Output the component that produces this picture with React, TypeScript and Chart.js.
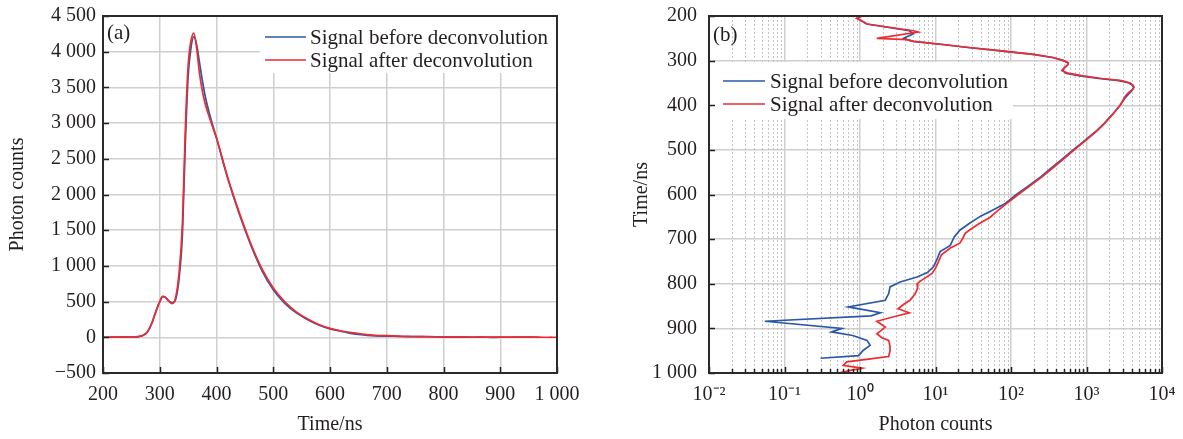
import { useEffect, useRef } from 'react';
import { Chart, registerables } from 'chart.js';

Chart.register(...registerables);

const FONT_FAMILY = '"Liberation Serif", "Times New Roman", Times, serif';
const INK = '#231f20';
const GRID = '#cfcfcf';
const MINOR_GRID = '#c4c4c4';
const BLUE = '#2b57ab';
const RED = '#ee2b30';
const HEIGHT = 439;

const seriesLabels = ['Signal before deconvolution', 'Signal after deconvolution'];
const seriesColors = [BLUE, RED];

// Signal before deconvolution: time (ns) and photon counts
const beforeTimes = [
  200, 205, 214, 218, 233, 240, 250, 253, 257, 265, 270, 278, 286, 293, 300, 305, 310, 316, 322, 328,
  334, 340, 345, 350, 355, 360, 365, 370, 375, 380, 390, 400, 420, 440, 460, 480, 500, 520, 540, 560,
  580, 600, 620, 634, 649, 665, 680, 695, 714, 728, 745, 762, 775, 785, 796, 807, 822, 837, 852, 865,
  872, 884, 900, 908, 916, 927, 938, 949, 961, 967,
];
const beforeCounts = [
  1.06, 0.91, 1.13, 1.23, 4.5, 5.1, 3.8, 4.2, 5.1, 14, 25, 72, 195, 355, 495, 570, 562, 510, 482, 530,
  820, 1450, 2700, 3650, 4050, 4210, 4100, 3850, 3600, 3380, 3060, 2790, 2220, 1730, 1300, 935, 665, 480, 345, 250,
  172, 118, 84, 58.6, 39, 28, 21, 17.7, 15.7, 11.5, 10.5, 9.4, 7.8, 5.7, 3.4, 2.5, 2.4, 2.16, 0.7, 1.86,
  1.4, 0.055, 0.575, 0.42, 0.8, 1.24, 1.36, 1.11, 0.955, 0.3,
];

// Signal after deconvolution: time (ns) and photon counts
const afterTimes = [
  200, 205, 214, 218, 233, 236, 250, 253, 257, 265, 270, 278, 286, 293, 300, 305, 310, 316, 322, 328,
  334, 340, 345, 350, 355, 360, 365, 370, 375, 380, 390, 400, 420, 440, 460, 480, 500, 520, 540, 560,
  580, 600, 620, 638, 651, 665, 680, 687, 698, 709, 720, 735, 750, 765, 777, 794, 800, 810, 822, 837,
  846, 856, 865, 874, 884, 897, 905, 912, 921, 927, 940, 950, 963, 969, 975, 983, 989, 994, 1000,
];
const afterCounts = [
  1.06, 0.91, 1.13, 1.23, 5.1, 5.9, 1.67, 4.2, 5.1, 14.5, 26, 75, 200, 360, 500, 575, 560, 505, 472, 560,
  900, 1600, 2900, 3800, 4150, 4260, 4050, 3700, 3450, 3270, 3020, 2790, 2230, 1750, 1320, 960, 690, 500, 360, 260,
  180, 125, 88, 65, 53, 38, 28, 24.7, 23, 21, 15.7, 12, 11, 10, 9, 6.3, 5.7, 5.8, 5.4, 4.6,
  3.8, 3.2, 4.5, 2.8, 1.67, 2.16, 1.9, 1.67, 1.95, 2.4, 2.5, 2.5, 2.4, 1.3, 0.67, 0.6, 1.06, 0.75, 0.52,
];

const timeTicks = [200, 300, 400, 500, 600, 700, 800, 900, 1000];
const countTicks = [-500, 0, 500, 1000, 1500, 2000, 2500, 3000, 3500, 4000, 4500];
const decadeExponents = [-2, -1, 0, 1, 2, 3, 4];
const decadeSubdivisions = [1, 2, 3, 4, 5, 6, 7, 8, 9];

const SUPERSCRIPT: Record<string, string> = {
  '-': '\u207B', '0': '\u2070', '1': '\u00B9', '2': '\u00B2', '3': '\u00B3',
  '4': '\u2074', '5': '\u2075', '6': '\u2076', '7': '\u2077', '8': '\u2078', '9': '\u2079',
};

const logTickValues = decadeExponents.flatMap((e, i) =>
  i === decadeExponents.length - 1
    ? [Math.pow(10, e)]
    : decadeSubdivisions.map((m) => Number((m * Math.pow(10, e)).toPrecision(3)))
);

function isDecade(v: number): boolean {
  const l = Math.log10(v);
  return Math.abs(l - Math.round(l)) < 1e-9;
}

function powerOfTen(v: number): string {
  const exp = Math.round(Math.log10(v));
  return '10' + String(exp).split('').map((c) => SUPERSCRIPT[c]).join('');
}

function spacedNumber(v: number): string {
  const digits = Math.abs(Math.round(v)).toString().replace(/\B(?=(\d{3})+(?!\d))/g, ' ');
  return (v < 0 ? '\u2212' : '') + digits;
}

const tickFont = { family: FONT_FAMILY, size: 20 };
const legendFont = `21px ${FONT_FAMILY}`;

// keep the plot area where the layout padding puts it
function fixedVertical(width: number) {
  return (s: any) => {
    s.width = width;
    s.paddingTop = 0;
    s.paddingBottom = 0;
  };
}
function fixedHorizontal(height: number) {
  return (s: any) => {
    s.height = height;
    s.paddingLeft = 0;
    s.paddingRight = 0;
  };
}

type LegendSpec = {
  left: (area: any) => number;
  top: (area: any) => number;
  width: number;
  height: number;
  lineFrom: number;
  lineTo: number;
  textAt: number;
  rows: number[];
};

function makeDecor(tag: string, tagDx: number, tagDy: number, legend: LegendSpec, minorGrid: boolean) {
  return {
    id: 'panelDecor',
    beforeDatasetsDraw(chart: any) {
      if (!minorGrid) return;
      const { ctx, chartArea } = chart;
      const xs = chart.scales.x;
      ctx.save();
      ctx.strokeStyle = MINOR_GRID;
      ctx.lineWidth = 1;
      ctx.setLineDash([2, 2]);
      xs.ticks.forEach((t: any) => {
        if (isDecade(t.value)) return;
        const px = Math.round(xs.getPixelForValue(t.value)) + 0.5;
        ctx.beginPath();
        ctx.moveTo(px, chartArea.top);
        ctx.lineTo(px, chartArea.bottom);
        ctx.stroke();
      });
      ctx.restore();
    },
    afterDraw(chart: any) {
      const { ctx, chartArea } = chart;
      const xs = chart.scales.x;
      const ys = chart.scales.y;
      ctx.save();

      // legend panel
      const bx = legend.left(chartArea);
      const by = legend.top(chartArea);
      ctx.fillStyle = '#ffffff';
      ctx.fillRect(bx, by, legend.width, legend.height);
      ctx.font = legendFont;
      ctx.textBaseline = 'middle';
      ctx.textAlign = 'left';
      chart.data.datasets.forEach((ds: any, i: number) => {
        const ry = by + legend.rows[i];
        ctx.strokeStyle = ds.borderColor;
        ctx.lineWidth = 1.6;
        ctx.beginPath();
        ctx.moveTo(bx + legend.lineFrom, ry);
        ctx.lineTo(bx + legend.lineTo, ry);
        ctx.stroke();
        ctx.fillStyle = INK;
        ctx.fillText(ds.label, bx + legend.textAt, ry + 1);
      });

      // panel tag
      ctx.font = legendFont;
      ctx.fillStyle = INK;
      ctx.textBaseline = 'middle';
      ctx.fillText(tag, chartArea.left + tagDx, chartArea.top + tagDy);

      // inward tick marks
      ctx.strokeStyle = INK;
      ctx.lineWidth = 1.5;
      ys.ticks.forEach((t: any) => {
        const py = Math.round(ys.getPixelForValue(t.value)) + 0.5;
        ctx.beginPath();
        ctx.moveTo(chartArea.left, py);
        ctx.lineTo(chartArea.left + 6, py);
        ctx.stroke();
      });
      xs.ticks.forEach((t: any) => {
        const px = Math.round(xs.getPixelForValue(t.value)) + 0.5;
        const len = minorGrid && !isDecade(t.value) ? 4 : 6;
        ctx.beginPath();
        ctx.moveTo(px, chartArea.bottom);
        ctx.lineTo(px, chartArea.bottom - len);
        ctx.stroke();
      });

      // frame
      ctx.strokeStyle = '#2a2a2a';
      ctx.lineWidth = 2;
      ctx.strokeRect(chartArea.left, chartArea.top, chartArea.right - chartArea.left, chartArea.bottom - chartArea.top);
      ctx.restore();
    },
  };
}

function lineDataset(i: number, points: { x: number; y: number }[], smooth: boolean) {
  return {
    label: seriesLabels[i],
    data: points,
    showLine: true,
    borderColor: seriesColors[i],
    backgroundColor: seriesColors[i],
    borderWidth: 1.7,
    pointRadius: 0,
    fill: false,
    tension: 0,
    cubicInterpolationMode: smooth ? 'monotone' : 'default',
    order: i === 0 ? 1 : 0,
  };
}

function linearConfig(): any {
  return {
    type: 'scatter',
    data: {
      datasets: [
        lineDataset(0, beforeTimes.map((t, i) => ({ x: t, y: beforeCounts[i] })), true),
        lineDataset(1, afterTimes.map((t, i) => ({ x: t, y: afterCounts[i] })), true),
      ],
    },
    options: {
      responsive: false,
      animation: false,
      devicePixelRatio: 1,
      events: [],
      layout: { padding: { top: 16, right: 33, bottom: 0, left: 0 } },
      plugins: { legend: { display: false }, tooltip: { enabled: false } },
      scales: {
        x: {
          type: 'linear',
          min: 200,
          max: 1000,
          afterBuildTicks: (s: any) => { s.ticks = timeTicks.map((value) => ({ value })); },
          afterFit: fixedHorizontal(66),
          grid: { color: GRID, lineWidth: 1.5, drawTicks: false },
          border: { display: false },
          ticks: { font: tickFont, color: INK, padding: 10, maxRotation: 0, autoSkip: false, callback: (v: number) => spacedNumber(v) },
          title: { display: true, text: 'Time/ns', font: tickFont, color: INK, padding: { top: 0, bottom: 2 } },
        },
        y: {
          type: 'linear',
          min: -500,
          max: 4500,
          afterBuildTicks: (s: any) => { s.ticks = countTicks.map((value) => ({ value })); },
          afterFit: fixedVertical(103),
          grid: { color: GRID, lineWidth: 1.5, drawTicks: false },
          border: { display: false },
          ticks: { font: tickFont, color: INK, padding: 7, autoSkip: false, callback: (v: number) => spacedNumber(v) },
          title: { display: true, text: 'Photon counts', font: tickFont, color: INK, padding: { top: 6, bottom: 0 } },
        },
      },
    },
    plugins: [
      makeDecor('(a)', 4, 17, {
        left: (a) => a.right - 297,
        top: (a) => a.top,
        width: 297,
        height: 57,
        lineFrom: 5,
        lineTo: 46,
        textAt: 50,
        rows: [21, 44],
      }, false),
    ],
  };
}

function logConfig(): any {
  return {
    type: 'scatter',
    data: {
      datasets: [
        lineDataset(0, beforeTimes.map((t, i) => ({ x: beforeCounts[i], y: t })), false),
        lineDataset(1, afterTimes.map((t, i) => ({ x: afterCounts[i], y: t })), false),
      ],
    },
    options: {
      responsive: false,
      animation: false,
      devicePixelRatio: 1,
      events: [],
      layout: { padding: { top: 16, right: 21, bottom: 0, left: 0 } },
      plugins: { legend: { display: false }, tooltip: { enabled: false } },
      scales: {
        x: {
          type: 'logarithmic',
          min: Math.pow(10, decadeExponents[0]),
          max: Math.pow(10, decadeExponents[decadeExponents.length - 1]),
          afterBuildTicks: (s: any) => { s.ticks = logTickValues.map((value) => ({ value, major: isDecade(value) })); },
          afterFit: fixedHorizontal(66),
          grid: {
            color: (c: any) => (c.tick && isDecade(c.tick.value) ? GRID : 'rgba(0,0,0,0)'),
            lineWidth: 1.5,
            drawTicks: false,
          },
          border: { display: false },
          ticks: {
            font: tickFont,
            color: INK,
            padding: 10,
            maxRotation: 0,
            autoSkip: false,
            callback: (v: number) => (isDecade(v) ? powerOfTen(v) : ''),
          },
          title: { display: true, text: 'Photon counts', font: tickFont, color: INK, padding: { top: 0, bottom: 2 } },
        },
        y: {
          type: 'linear',
          reverse: true,
          min: 200,
          max: 1000,
          afterBuildTicks: (s: any) => { s.ticks = timeTicks.map((value) => ({ value })); },
          afterFit: fixedVertical(119),
          grid: { color: GRID, lineWidth: 1.5, drawTicks: false },
          border: { display: false },
          ticks: { font: tickFont, color: INK, padding: 12, autoSkip: false, callback: (v: number) => spacedNumber(v) },
          title: { display: true, text: 'Time/ns', font: tickFont, color: INK, padding: { top: 40, bottom: 0 } },
        },
      },
    },
    plugins: [
      makeDecor('(b)', 4, 19, {
        left: (a) => a.left + 3,
        top: (a) => a.top + 46,
        width: 301,
        height: 57,
        lineFrom: 11,
        lineTo: 53,
        textAt: 58,
        rows: [19, 42],
      }, true),
    ],
  };
}

function ChartCanvas({ makeConfig, left, width }: { makeConfig: () => any; left: number; width: number }) {
  const ref = useRef<HTMLCanvasElement>(null);
  useEffect(() => {
    const chart = new Chart(ref.current as HTMLCanvasElement, makeConfig());
    return () => chart.destroy();
  }, [makeConfig]);
  return (
    <canvas
      ref={ref}
      width={width}
      height={HEIGHT}
      style={{ position: 'absolute', left, top: 0, width, height: HEIGHT, display: 'block' }}
    />
  );
}

export default function App() {
  return (
    <div style={{ position: 'absolute', left: 0, top: 0, width: 1183, height: HEIGHT, background: '#ffffff', overflow: 'hidden' }}>
      <ChartCanvas makeConfig={linearConfig} left={0} width={590} />
      <ChartCanvas makeConfig={logConfig} left={590} width={593} />
    </div>
  );
}
